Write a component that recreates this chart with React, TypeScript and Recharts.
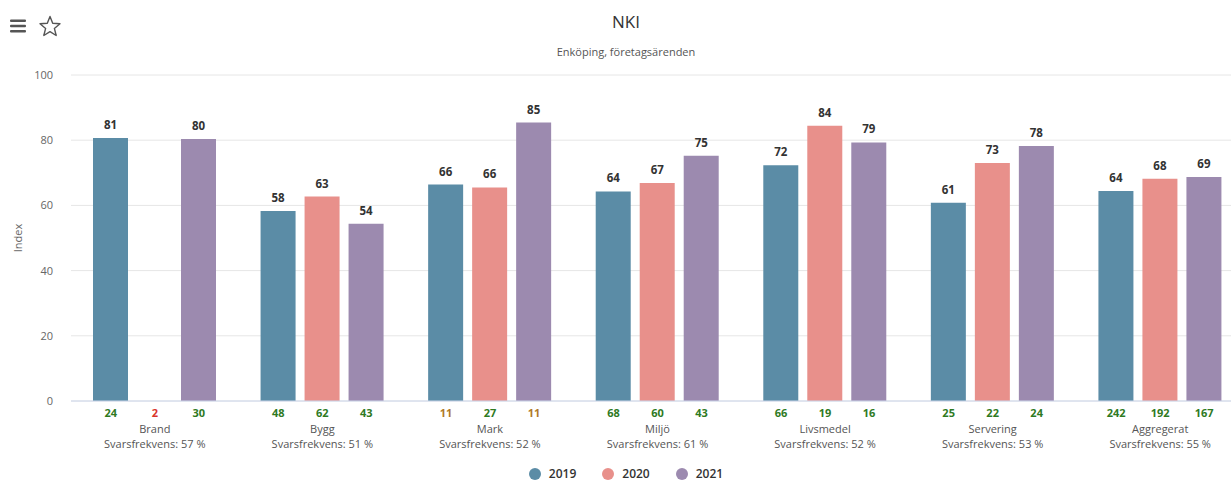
import { BarChart, Bar, XAxis, YAxis, CartesianGrid, LabelList } from 'recharts'

const categories = ['Brand', 'Bygg', 'Mark', 'Miljö', 'Livsmedel', 'Servering', 'Aggregerat']
const responseRates = [57, 51, 52, 61, 52, 53, 55]

const index2019 = [80.7, 58.3, 66.4, 64.3, 72.3, 60.8, 64.4]
const index2020 = [null, 62.7, 65.5, 66.9, 84.4, 73.0, 68.2]
const index2021 = [80.4, 54.4, 85.4, 75.2, 79.3, 78.2, 68.7]

// number of answers per year, shown under each bar
const answers2019 = [24, 48, 11, 68, 66, 25, 242]
const answers2020 = [2, 62, 27, 60, 19, 22, 192]
const answers2021 = [30, 43, 11, 43, 16, 24, 167]

const yTicks = [0, 20, 40, 60, 80, 100]

const series = [
  { key: 'y2019', name: '2019', color: '#5b8ca6', values: index2019, answers: answers2019 },
  { key: 'y2020', name: '2020', color: '#e8908b', values: index2020, answers: answers2020 },
  { key: 'y2021', name: '2021', color: '#9c8aaf', values: index2021, answers: answers2021 },
]

const data = categories.map((name, i) => {
  const row: Record<string, string | number | null> = { name }
  for (const s of series) row[s.key] = s.values[i]
  return row
})

const FONT = '"Open Sans", "DejaVu Sans", sans-serif'
const BAR_SIZE = 35
const BAR_GAP = 9

function answerColor(n: number) {
  if (n < 5) return '#d9342b'
  if (n < 15) return '#b07a2a'
  return '#2f7a1f'
}

function CategoryTick(props: any) {
  const { x, y, payload } = props
  const i = payload.index
  return (
    <g fontFamily={FONT}>
      {series.map((s, k) => (
        <text
          key={s.key}
          x={x + (k - 1) * (BAR_SIZE + BAR_GAP)}
          y={y + 14}
          textAnchor="middle"
          fontSize={11}
          fontWeight="bold"
          fill={answerColor(s.answers[i])}
        >
          {s.answers[i]}
        </text>
      ))}
      <text x={x} y={y + 30} textAnchor="middle" fontSize={11} fill="#555">
        {payload.value}
      </text>
      <text x={x} y={y + 45} textAnchor="middle" fontSize={11} fill="#555">
        {`Svarsfrekvens: ${responseRates[i]} %`}
      </text>
    </g>
  )
}

function starPoints(cx: number, cy: number, r1: number, r2: number) {
  const pts: string[] = []
  for (let i = 0; i < 10; i++) {
    const r = i % 2 === 0 ? r1 : r2
    const a = -Math.PI / 2 + (i * Math.PI) / 5
    pts.push(`${cx + r * Math.cos(a)},${cy + r * Math.sin(a)}`)
  }
  return pts.join(' ')
}

export default function App() {
  return (
    <div style={{ position: 'absolute', left: 0, top: 0, width: 1231, height: 483, overflow: 'hidden', background: '#fff', fontFamily: FONT }}>
      {/* menu + favourite icons */}
      <svg width={70} height={40} style={{ position: 'absolute', left: 0, top: 0 }}>
        <rect x={10} y={19.5} width={16} height={2.6} rx={1} fill="#555" />
        <rect x={10} y={24.7} width={16} height={2.6} rx={1} fill="#555" />
        <rect x={10} y={29.9} width={16} height={2.6} rx={1} fill="#555" />
        <polygon points={starPoints(50, 27, 10.5, 4.6)} fill="none" stroke="#555" strokeWidth={1.4} strokeLinejoin="round" />
      </svg>

      <div style={{ position: 'absolute', left: 0, width: 1252, top: 10, textAlign: 'center', fontSize: 17, color: '#333' }}>NKI</div>
      <div style={{ position: 'absolute', left: 0, width: 1252, top: 44, textAlign: 'center', fontSize: 11, color: '#555' }}>
        Enköping, företagsärenden
      </div>

      <BarChart
        width={1252}
        height={483}
        data={data}
        margin={{ top: 75, right: 8, left: 0, bottom: 27 }}
        barSize={BAR_SIZE}
        barGap={BAR_GAP}
      >
        <CartesianGrid vertical={false} stroke="#e6e6e6" />
        <XAxis
          dataKey="name"
          interval={0}
          height={55}
          tickLine={false}
          tickSize={0}
          axisLine={{ stroke: '#ccd6eb' }}
          tick={<CategoryTick />}
        />
        <YAxis
          domain={[0, 100]}
          ticks={yTicks}
          width={71}
          axisLine={false}
          tickLine={false}
          tickSize={0}
          tickMargin={18}
          tick={{ fontSize: 11, fill: '#666', fontFamily: FONT }}
          label={{ value: 'Index', angle: -90, position: 'insideLeft', offset: 18, style: { textAnchor: 'middle', fontSize: 11, fill: '#666', fontFamily: FONT } }}
        />
        {series.map((s) => (
          <Bar key={s.key} dataKey={s.key} name={s.name} fill={s.color} isAnimationActive={false}>
            <LabelList
              dataKey={s.key}
              position="top"
              offset={9}
              formatter={(v: any) => (v == null ? '' : Math.round(v))}
              style={{ fontSize: 11.5, fontWeight: 'bold', fill: '#333', fontFamily: FONT }}
            />
          </Bar>
        ))}
      </BarChart>

      {/* legend */}
      <div style={{ position: 'absolute', left: 0, width: 1252, top: 467, height: 14, display: 'flex', justifyContent: 'center', gap: 26 }}>
        {series.map((s) => (
          <div key={s.key} style={{ display: 'flex', alignItems: 'center', fontSize: 12, lineHeight: '14px', fontWeight: 600, color: '#333' }}>
            <span style={{ width: 12, height: 12, borderRadius: 6, background: s.color, marginRight: 8, display: 'inline-block' }} />
            {s.name}
          </div>
        ))}
      </div>
    </div>
  )
}
